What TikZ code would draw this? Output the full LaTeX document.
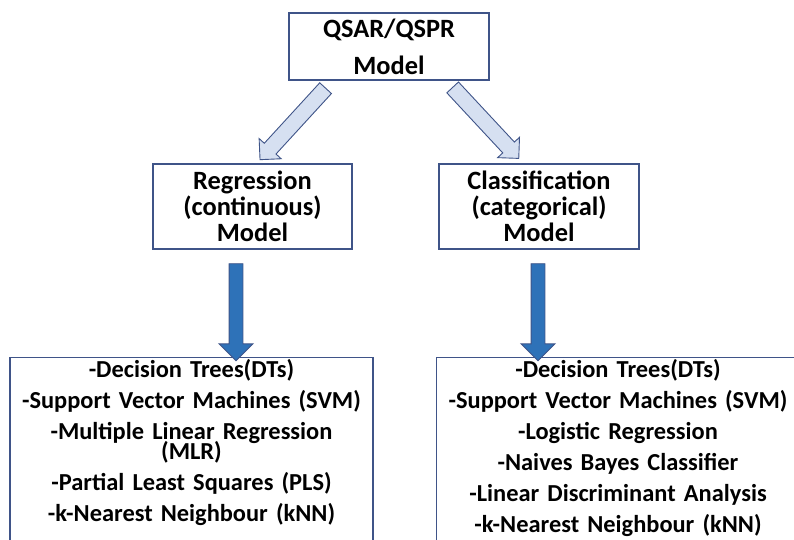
\documentclass[tikz,border=0pt]{standalone}
\usepackage{fontspec}
\setmainfont{Carlito}
\usetikzlibrary{shapes.arrows,calc}

\definecolor{boxline}{HTML}{3F5488}
\definecolor{lightarrow}{HTML}{D6E0F1}
\definecolor{darkarrow}{HTML}{2E72B8}
\newcommand{\tightlines}{\lineskiplimit=-30pt\relax}

\begin{document}
\begin{tikzpicture}[x=1bp,y=-1bp,
  box/.style={draw=boxline, line width=1.1bp, fill=white, align=center, inner sep=0pt},
  list/.style={box, anchor=north, font=\fontsize{24.5}{31.2}\selectfont\bfseries\tightlines, inner sep=3bp, text width=357bp, text height=17bp, text depth=200bp},
  slant/.style={single arrow, draw=boxline, fill=lightarrow, line width=0.9bp, inner xsep=0pt, inner ysep=7.5bp, minimum height=97bp, minimum width=29bp, single arrow head extend=7bp, sloped, allow upside down},
  down/.style={single arrow, draw=boxline, fill=darkarrow, line width=0.9bp, inner xsep=0pt, inner ysep=6.5bp, minimum height=97bp, minimum width=33bp, single arrow head extend=10bp, sloped, allow upside down}]
\useasboundingbox (0,0) rectangle (794,540);
\clip (0,0) rectangle (794,540);

\node [box, minimum width=200bp, minimum height=67bp, font=\fontsize{26.5}{37}\selectfont\bfseries] (qsar) at (389,46.5) {QSAR/QSPR\\Model};

\node [box, minimum width=199bp, minimum height=85bp, font=\fontsize{26.5}{26}\selectfont\bfseries\tightlines] (reg) at (252.5,206.5) {Regression\\(continuous)\\Model};
\node [box, minimum width=200bp, minimum height=85bp, font=\fontsize{26.5}{26}\selectfont\bfseries\tightlines] (cls) at (539,206.5) {Classification\\(categorical)\\Model};

\node [list] (reglist) at (191.5,357) {-Decision Trees(DTs)\\
  -Support Vector Machines (SVM)\\
  -Multiple Linear Regression\\[-11.2bp](MLR)\\
  -Partial Least Squares (PLS)\\
  -k-Nearest Neighbour (kNN)};
\node [list] (clslist) at (618,357) {-Decision Trees(DTs)\\
  -Support Vector Machines (SVM)\\
  -Logistic Regression\\
  -Naives Bayes Classifier\\
  -Linear Discriminant Analysis\\
  -k-Nearest Neighbour (kNN)};

\path ($(qsar.south)+(-61,5)$) -- ($(reg.north)+(10.5,-7)$) node [slant, midway] (toreg) {};
\path ($(qsar.south)+(61,4)$) -- ($(cls.north)+(-23,-8)$) node [slant, midway] (tocls) {};
\path ($(reg.south)+(-16.5,11)$) -- ($(reglist.north)+(44.5,0)$) node [down, midway] (toreglist) {};
\path ($(cls.south)+(-1,11)$) -- ($(clslist.north)+(-80,0)$) node [down, midway] (toclslist) {};
\end{tikzpicture}
\end{document}
